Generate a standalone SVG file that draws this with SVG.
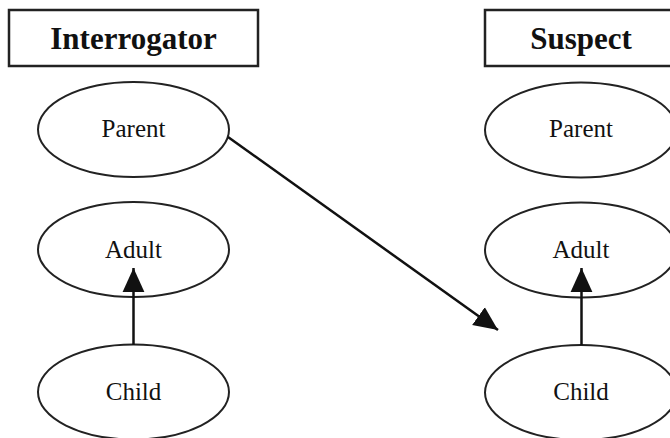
<svg xmlns="http://www.w3.org/2000/svg" width="670" height="438" viewBox="0 0 670 438">
<style>
.box{fill:#fff;stroke:#222;stroke-width:2.5}
.ell{fill:#fff;stroke:#222;stroke-width:2}
.title{font-family:"Liberation Serif","Times New Roman",serif;font-weight:bold;font-size:31px;fill:#111;text-anchor:middle}
.lbl{font-family:"Liberation Serif","Times New Roman",serif;font-size:25px;fill:#111;text-anchor:middle}
.edge{stroke:#111;stroke-width:2.5;fill:none}
</style>
<defs>
<marker id="ah" markerUnits="userSpaceOnUse" markerWidth="24" markerHeight="24" viewBox="0 0 22 20" refX="22" refY="10" orient="auto">
<path d="M0,0 L22,10 L0,20 Z" fill="#111"/>
</marker>
</defs>
<rect width="670" height="438" fill="#fff"/>
<g id="interrogator"><rect class="box" x="9" y="10" width="249" height="56"/><text class="title" x="133.5" y="49">Interrogator</text></g>
<g id="suspect"><rect class="box" x="485" y="10" width="200" height="56"/><text class="title" x="581" y="49">Suspect</text></g>
<g id="i-parent"><ellipse class="ell" cx="133.5" cy="129.5" rx="95.5" ry="47.5"/><text class="lbl" x="133.5" y="137">Parent</text></g>
<g id="i-adult"><ellipse class="ell" cx="133.5" cy="249.5" rx="95.5" ry="47.5"/><text class="lbl" x="133.5" y="258">Adult</text></g>
<g id="i-child"><ellipse class="ell" cx="133.5" cy="392" rx="95.5" ry="47.5"/><text class="lbl" x="133.5" y="400">Child</text></g>
<g id="s-parent"><ellipse class="ell" cx="581" cy="130" rx="96" ry="47.5"/><text class="lbl" x="581" y="137">Parent</text></g>
<g id="s-adult"><ellipse class="ell" cx="581" cy="250" rx="96" ry="47.5"/><text class="lbl" x="581" y="258">Adult</text></g>
<g id="s-child"><ellipse class="ell" cx="581" cy="392.5" rx="96" ry="47.5"/><text class="lbl" x="581" y="400">Child</text></g>
<g id="connectors">
<line class="edge" x1="133.5" y1="345" x2="133.5" y2="268" marker-end="url(#ah)"/>
<line class="edge" x1="581.5" y1="345" x2="581.5" y2="268" marker-end="url(#ah)"/>
<line class="edge" x1="228" y1="137" x2="498" y2="330" marker-end="url(#ah)"/>
</g>
</svg>
